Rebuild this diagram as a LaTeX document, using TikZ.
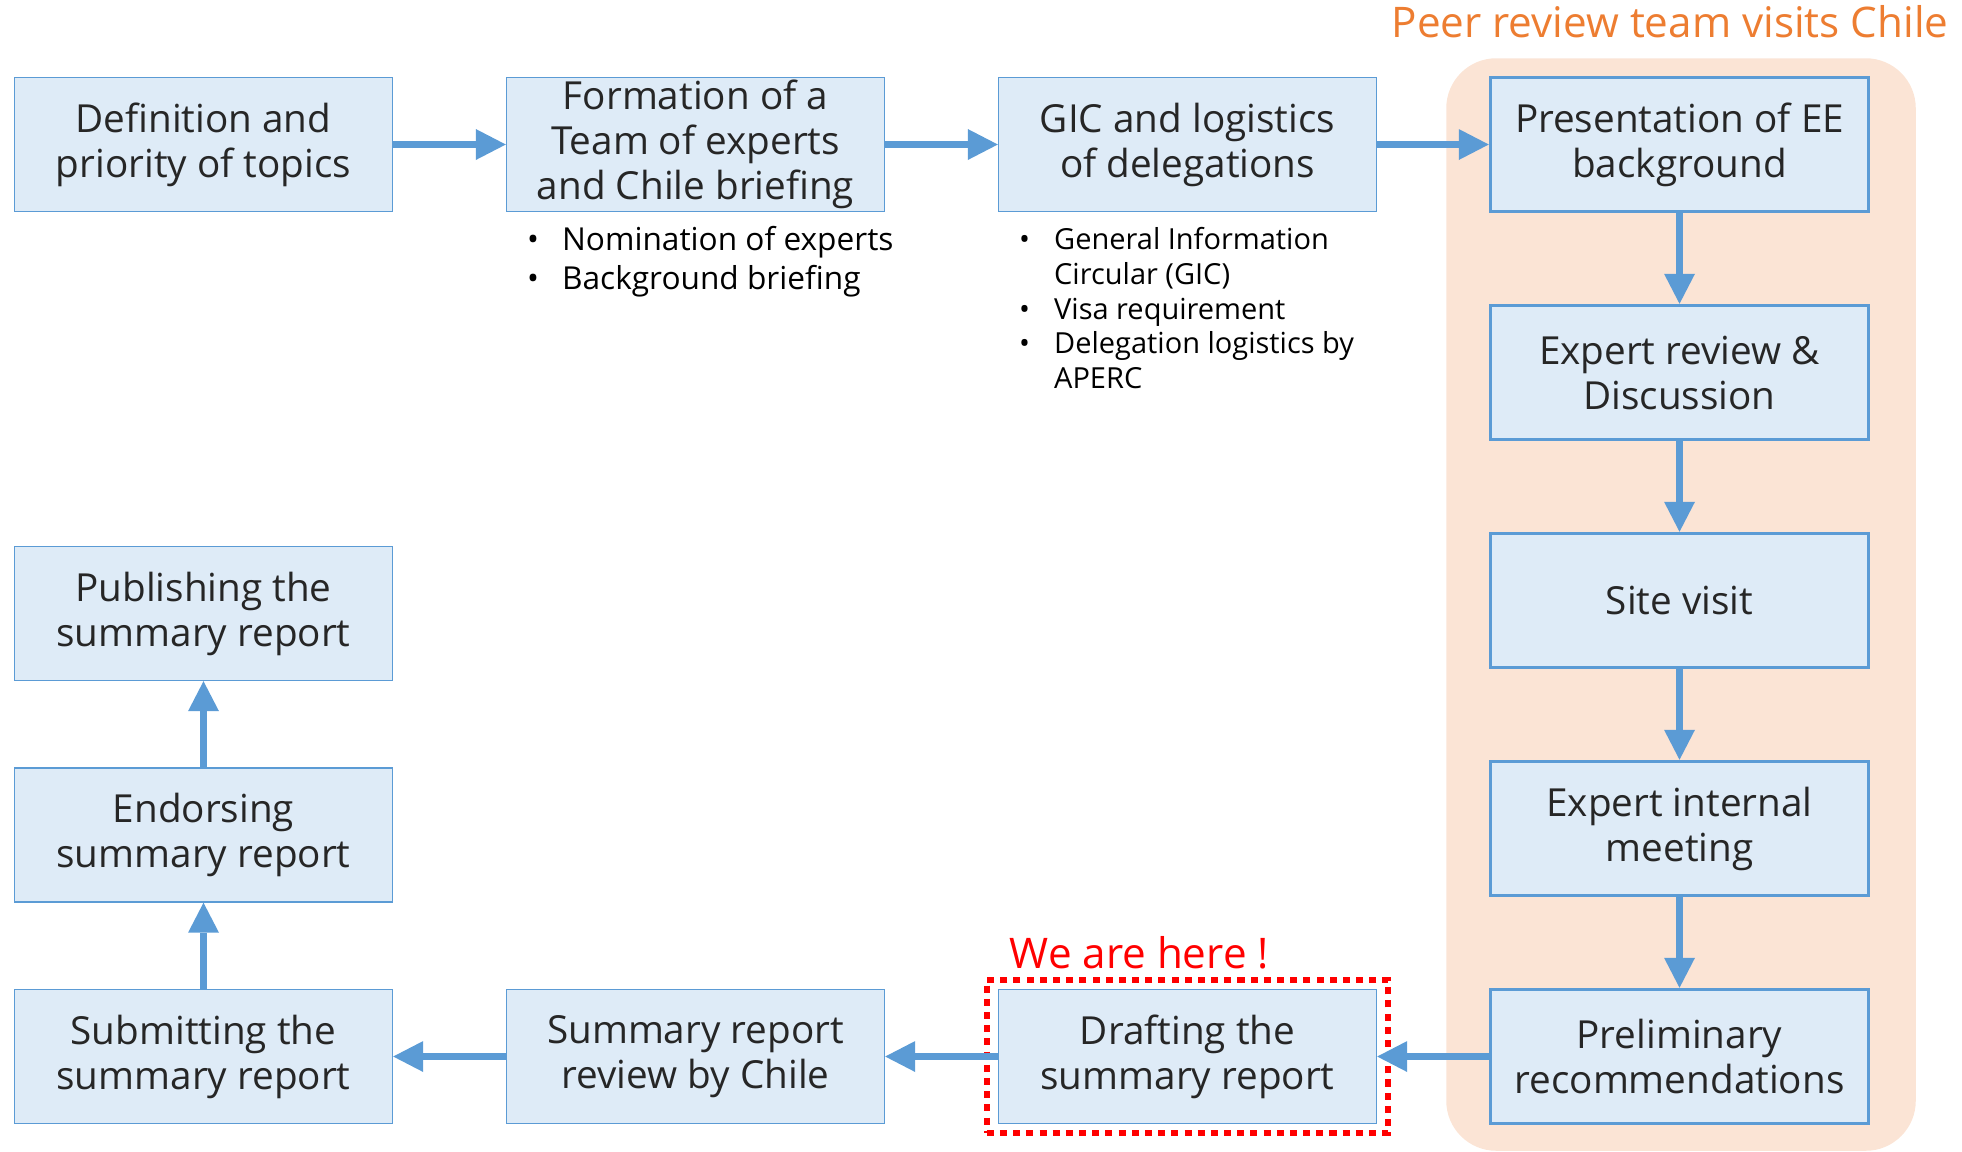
\documentclass[tikz,border=0pt]{standalone}
\usepackage{fontspec}
\setmainfont{Open Sans}
\usepackage{tikz}
\usetikzlibrary{arrows.meta,positioning,fit,backgrounds}

\definecolor{stepfill}{HTML}{DEEBF7}
\definecolor{stepline}{HTML}{5B9BD5}
\definecolor{steptext}{HTML}{262626}
\definecolor{visitfill}{HTML}{FBE4D5}
\definecolor{visitorange}{HTML}{ED7D31}

\tikzset{
  stepbox/.style={draw=stepline, line width=0.8pt, fill=stepfill, text=steptext,
    minimum width=7.56cm, minimum height=2.68cm, inner xsep=0.1cm, inner ysep=0pt,
    align=center, font=\fontsize{22}{25.6}\selectfont},
  visitbox/.style={stepbox, line width=2pt},
  flow/.style={draw=stepline, line width=4pt},
  notes/.style={inner sep=0pt, anchor=north west, text=black},
  herebox/.style={draw=red, line width=3.6pt, dash pattern=on 4pt off 3.5pt,
    inner xsep=0.22cm, inner ysep=0.18cm},
}

\begin{document}
\begin{tikzpicture}[>={Triangle[length=0.6cm,width=0.62cm,line width=0pt,fill=stepline]}, node distance=9.84cm]
  \useasboundingbox (0,0) rectangle (39.24,-23.02);

  % top row
  \node[stepbox]  (def)     at (4.07,-2.89)  {Definition and\\priority of topics};
  \node[stepbox]  (team)    [right of=def]   {Formation of a\\Team of experts\\and Chile briefing};
  \node[stepbox]  (gic)     [right of=team]  {GIC and logistics\\of delegations};

  % visit to Chile
  \node[visitbox] (pres)    [right of=gic]   {Presentation of EE\\background};
  \node[visitbox] (review)  [below of=pres, node distance=4.56cm]   {Expert review \&\\Discussion};
  \node[visitbox] (site)    [below of=review, node distance=4.56cm] {Site visit};
  \node[visitbox] (meet)    [below of=site, node distance=4.56cm]   {Expert internal\\meeting};
  \node[visitbox] (prelim)  [below of=meet, node distance=4.56cm]   {Preliminary\\recommendations};

  % bottom row and left column
  \node[stepbox]  (draft)   [left of=prelim] {Drafting the\\summary report};
  \node[stepbox]  (chile)   [left of=draft]  {Summary report\\review by Chile};
  \node[stepbox]  (submit)  [left of=chile]  {Submitting the\\summary report};
  \node[stepbox]  (endorse) [above of=submit, node distance=4.43cm]  {Endorsing\\summary report};
  \node[stepbox]  (publish) [above of=endorse, node distance=4.43cm] {Publishing the\\summary report};

  \begin{scope}[on background layer]
    \fill[visitfill, rounded corners=1cm]
      ([shift={(-0.85,0.35)}]pres.north west) rectangle ([shift={(0.91,-0.51)}]prelim.south east);
  \end{scope}
  \node[text=visitorange, font=\fontsize{24}{28}\selectfont, anchor=base] (visittitle)
    at (33.4,-0.75) {Peer review team visits Chile};

  % bullet notes
  \node[notes, font=\fontsize{18}{22.2}\selectfont] (teamnotes)
    [below right=0.22cm and 0.42cm of team.south west] {%
    \begin{tabular}{@{}p{0.7cm}@{}l@{}}
      \textbullet & Nomination of experts\\
      \textbullet & Background briefing
    \end{tabular}};
  \node[notes, font=\fontsize{16.5}{19.8}\selectfont] (gicnotes)
    [below right=0.25cm and 0.42cm of gic.south west] {%
    \begin{tabular}{@{}p{0.7cm}@{}l@{}}
      \textbullet & General Information\\
                  & Circular (GIC)\\
      \textbullet & Visa requirement\\
      \textbullet & Delegation logistics by\\
                  & APERC
    \end{tabular}};

  % where we are
  \node[herebox, fit=(draft)] (here) {};
  \node[text=red, font=\fontsize{24}{28}\selectfont, anchor=base west] (herelbl)
    at ([xshift=0.4cm,yshift=0.16cm]here.north west) {We are here !};

  \path[->, flow]
    (def)     edge (team)
    (team)    edge (gic)
    (gic)     edge (pres)
    (pres)    edge (review)
    (review)  edge (site)
    (site)    edge (meet)
    (meet)    edge (prelim)
    (prelim)  edge (draft)
    (draft)   edge (chile)
    (chile)   edge (submit)
    (submit)  edge (endorse)
    (endorse) edge (publish);
\end{tikzpicture}
\end{document}
